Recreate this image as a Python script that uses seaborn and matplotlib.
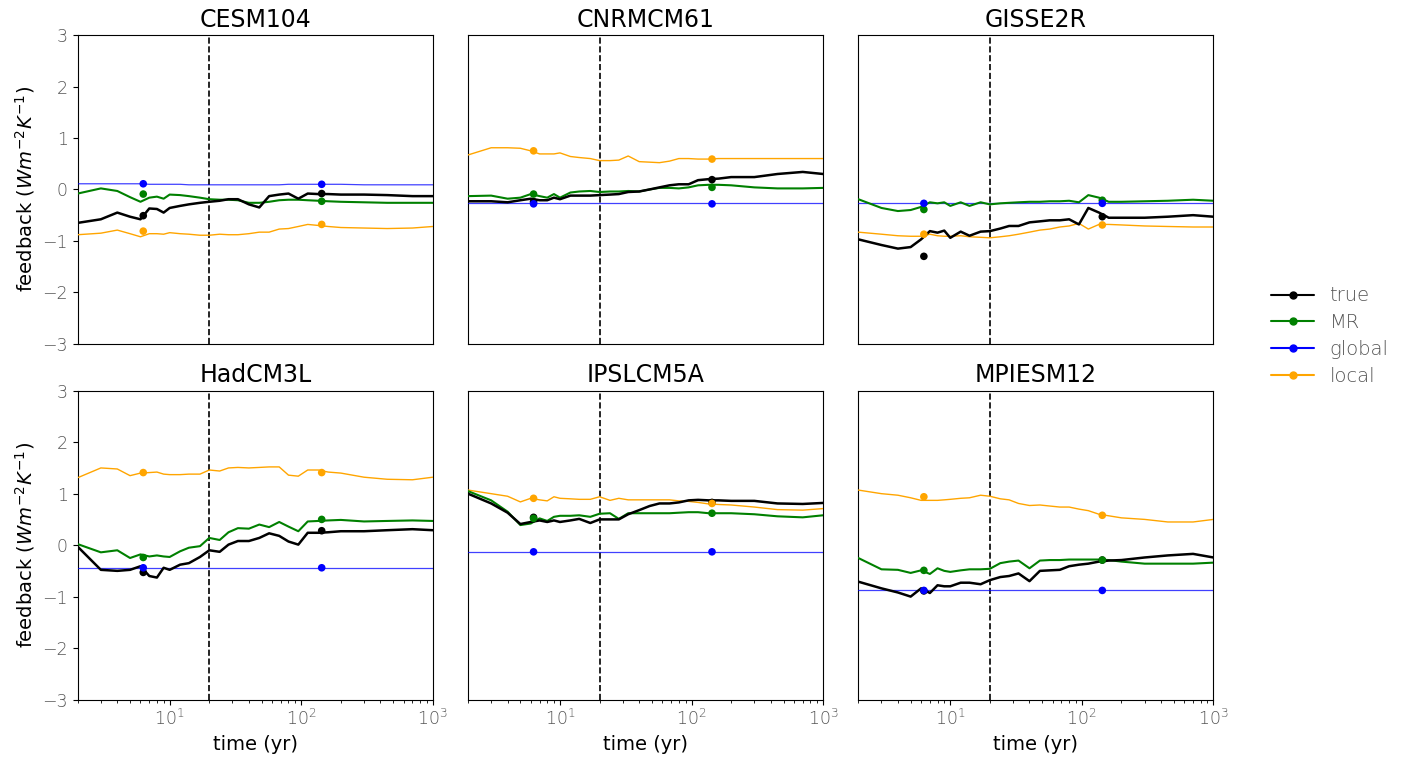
import numpy as np
import pandas as pd
import matplotlib
matplotlib.use("Agg")
import matplotlib.pyplot as plt
from matplotlib.lines import Line2D
import seaborn as sns

# tiempos (anos) y valores
time = [2, 3, 4, 5, 6, 7, 8, 9, 10, 12, 14, 17, 20, 24, 28, 33, 40, 48, 57, 68,
        80, 95, 112, 135, 160, 200, 300, 450, 700, 1000]
point_times = [6.3, 143]

models = ["CESM104", "CNRMCM61", "GISSE2R", "HadCM3L", "IPSLCM5A", "MPIESM12"]

# CESM104
cesm_true = [-0.65, -0.58, -0.45, -0.53, -0.58, -0.37, -0.38, -0.45, -0.36, -0.32, -0.29, -0.26, -0.24, -0.22, -0.19,
             -0.19, -0.29, -0.35, -0.13, -0.10, -0.08, -0.18, -0.08, -0.09, -0.09, -0.10, -0.10, -0.11, -0.13, -0.13]
cesm_mr = [-0.08, 0.02, -0.03, -0.15, -0.24, -0.16, -0.14, -0.18, -0.10, -0.11, -0.13, -0.16, -0.19, -0.20, -0.20,
           -0.21, -0.26, -0.26, -0.24, -0.21, -0.20, -0.20, -0.21, -0.22, -0.23, -0.24, -0.25, -0.26, -0.26, -0.26]
cesm_global = [0.11, 0.11, 0.11, 0.11, 0.11, 0.10, 0.10, 0.10, 0.10, 0.10, 0.09, 0.09, 0.09, 0.09, 0.09,
               0.09, 0.09, 0.09, 0.09, 0.09, 0.10, 0.10, 0.10, 0.10, 0.10, 0.10, 0.09, 0.09, 0.09, 0.09]
cesm_local = [-0.88, -0.85, -0.79, -0.86, -0.92, -0.86, -0.86, -0.87, -0.84, -0.86, -0.87, -0.89, -0.89, -0.87, -0.88,
              -0.88, -0.86, -0.83, -0.83, -0.77, -0.76, -0.72, -0.68, -0.70, -0.72, -0.74, -0.75, -0.76, -0.75, -0.72]
cesm_pts = [[-0.51, -0.08], [-0.09, -0.23], [0.11, 0.10], [-0.81, -0.68]]

# CNRMCM61
cnrm_true = [-0.23, -0.23, -0.25, -0.21, -0.18, -0.21, -0.21, -0.16, -0.19, -0.12, -0.12, -0.12, -0.11, -0.10, -0.09,
             -0.05, -0.04, 0.00, 0.04, 0.08, 0.10, 0.10, 0.18, 0.20, 0.21, 0.24, 0.24, 0.30, 0.34, 0.30]
cnrm_mr = [-0.13, -0.12, -0.18, -0.16, -0.09, -0.13, -0.16, -0.09, -0.16, -0.06, -0.04, -0.03, -0.05, -0.04, -0.04,
           -0.03, -0.04, 0.00, 0.03, 0.03, 0.02, 0.04, 0.08, 0.09, 0.09, 0.08, 0.04, 0.02, 0.02, 0.03]
cnrm_global = [-0.27] * 30
cnrm_local = [0.67, 0.81, 0.81, 0.80, 0.75, 0.69, 0.69, 0.69, 0.71, 0.64, 0.62, 0.60, 0.56, 0.56, 0.57,
              0.65, 0.54, 0.53, 0.52, 0.55, 0.60, 0.60, 0.59, 0.59, 0.60, 0.60, 0.60, 0.60, 0.60, 0.60]
cnrm_pts = [[-0.24, 0.19], [-0.09, 0.04], [-0.28, -0.28], [0.75, 0.59]]

# GISSE2R
giss_true = [-0.97, -1.08, -1.15, -1.12, -0.97, -0.81, -0.84, -0.80, -0.94, -0.82, -0.90, -0.82, -0.81, -0.76, -0.71,
             -0.71, -0.64, -0.62, -0.60, -0.60, -0.58, -0.68, -0.36, -0.45, -0.55, -0.55, -0.55, -0.53, -0.50, -0.53]
giss_mr = [-0.19, -0.36, -0.42, -0.40, -0.34, -0.25, -0.27, -0.25, -0.32, -0.25, -0.32, -0.25, -0.29, -0.27, -0.26,
           -0.25, -0.24, -0.24, -0.23, -0.23, -0.22, -0.25, -0.11, -0.16, -0.24, -0.24, -0.23, -0.22, -0.20, -0.22]
giss_global = [-0.27] * 30
giss_local = [-0.83, -0.87, -0.90, -0.91, -0.91, -0.87, -0.90, -0.91, -0.91, -0.90, -0.92, -0.93, -0.94, -0.92, -0.90,
              -0.87, -0.83, -0.79, -0.77, -0.73, -0.71, -0.66, -0.77, -0.68, -0.68, -0.69, -0.71, -0.72, -0.73, -0.73]
giss_pts = [[-1.30, -0.53], [-0.39, -0.21], [-0.27, -0.27], [-0.87, -0.69]]

# HadCM3L
had_true = [-0.03, -0.48, -0.50, -0.48, -0.41, -0.60, -0.63, -0.44, -0.48, -0.38, -0.35, -0.23, -0.10, -0.13, 0.01,
            0.08, 0.08, 0.14, 0.23, 0.18, 0.07, 0.01, 0.24, 0.24, 0.25, 0.27, 0.27, 0.29, 0.31, 0.29]
had_mr = [0.02, -0.14, -0.10, -0.25, -0.18, -0.22, -0.20, -0.22, -0.23, -0.12, -0.05, -0.02, 0.14, 0.10, 0.25,
          0.33, 0.32, 0.40, 0.35, 0.45, 0.36, 0.27, 0.46, 0.47, 0.48, 0.49, 0.46, 0.47, 0.48, 0.47]
had_global = [-0.44] * 30
had_local = [1.31, 1.50, 1.48, 1.35, 1.40, 1.41, 1.42, 1.38, 1.37, 1.37, 1.38, 1.38, 1.46, 1.44, 1.50,
             1.51, 1.50, 1.51, 1.52, 1.52, 1.36, 1.34, 1.46, 1.46, 1.42, 1.40, 1.32, 1.28, 1.27, 1.32]
had_pts = [[-0.53, 0.28], [-0.24, 0.50], [-0.44, -0.44], [1.41, 1.41]]

# IPSLCM5A
ipsl_true = [1.00, 0.81, 0.63, 0.41, 0.45, 0.48, 0.45, 0.48, 0.45, 0.48, 0.51, 0.43, 0.50, 0.50, 0.50,
             0.60, 0.68, 0.76, 0.81, 0.81, 0.83, 0.87, 0.88, 0.87, 0.87, 0.86, 0.86, 0.81, 0.80, 0.82]
ipsl_mr = [1.05, 0.87, 0.65, 0.39, 0.42, 0.52, 0.47, 0.55, 0.57, 0.57, 0.58, 0.55, 0.61, 0.62, 0.51,
           0.62, 0.62, 0.62, 0.62, 0.62, 0.63, 0.64, 0.64, 0.62, 0.62, 0.62, 0.60, 0.56, 0.54, 0.58]
ipsl_global = [-0.13] * 30
ipsl_local = [1.07, 1.00, 0.95, 0.84, 0.91, 0.88, 0.86, 0.94, 0.91, 0.90, 0.89, 0.89, 0.94, 0.87, 0.91,
              0.88, 0.88, 0.88, 0.88, 0.88, 0.86, 0.85, 0.83, 0.80, 0.79, 0.78, 0.74, 0.69, 0.68, 0.71]
ipsl_pts = [[0.54, 0.83], [0.52, 0.62], [-0.13, -0.13], [0.91, 0.81]]

# MPIESM12
mpi_true = [-0.71, -0.84, -0.92, -1.00, -0.84, -0.93, -0.78, -0.80, -0.80, -0.73, -0.73, -0.76, -0.68, -0.62, -0.60,
            -0.55, -0.70, -0.50, -0.49, -0.48, -0.41, -0.38, -0.36, -0.32, -0.30, -0.29, -0.24, -0.20, -0.17, -0.24]
mpi_mr = [-0.25, -0.47, -0.48, -0.54, -0.49, -0.56, -0.45, -0.50, -0.52, -0.49, -0.47, -0.47, -0.46, -0.35, -0.32,
          -0.30, -0.45, -0.30, -0.29, -0.29, -0.28, -0.28, -0.28, -0.28, -0.29, -0.32, -0.36, -0.36, -0.36, -0.34]
mpi_global = [-0.88] * 30
mpi_local = [1.07, 1.00, 0.97, 0.92, 0.87, 0.87, 0.87, 0.88, 0.89, 0.91, 0.92, 0.97, 0.95, 0.90, 0.88,
             0.81, 0.77, 0.78, 0.76, 0.74, 0.74, 0.70, 0.67, 0.60, 0.57, 0.53, 0.50, 0.45, 0.45, 0.50]
mpi_pts = [[-0.89, -0.29], [-0.49, -0.29], [-0.88, -0.88], [0.94, 0.58]]

series = {
    "CESM104": (cesm_true, cesm_mr, cesm_global, cesm_local, cesm_pts),
    "CNRMCM61": (cnrm_true, cnrm_mr, cnrm_global, cnrm_local, cnrm_pts),
    "GISSE2R": (giss_true, giss_mr, giss_global, giss_local, giss_pts),
    "HadCM3L": (had_true, had_mr, had_global, had_local, had_pts),
    "IPSLCM5A": (ipsl_true, ipsl_mr, ipsl_global, ipsl_local, ipsl_pts),
    "MPIESM12": (mpi_true, mpi_mr, mpi_global, mpi_local, mpi_pts),
}

labels = ["true", "MR", "global", "local"]
colors = ["black", "green", "blue", "orange"]
widths = [1.8, 1.5, 0.9, 1.0]
alphas = [1.0, 1.0, 0.75, 1.0]

sns.set_style("ticks")
plt.rcParams["font.family"] = ["DejaVu Sans"]
plt.rcParams["text.color"] = "black"
plt.rcParams["axes.labelcolor"] = "black"
tick_color = "#555555"

fig, axes = plt.subplots(2, 3, figsize=(14.1, 7.62), dpi=100, sharex=True, sharey=True)
fig.subplots_adjust(left=0.0551, right=0.8606, top=0.954, bottom=0.082, wspace=0.099, hspace=0.152)

for k, (ax, model) in enumerate(zip(axes.flat, models)):
    data = series[model]
    for i in range(4):
        sns.lineplot(x=time, y=data[i], ax=ax, color=colors[i], lw=widths[i],
                     alpha=alphas[i], legend=False, zorder=3 - i * 0.1)
    for i in range(4):
        sns.scatterplot(x=point_times, y=data[4][i], ax=ax, color=colors[i], s=30,
                        edgecolor="none", legend=False, zorder=4)
    ax.axvline(20, color="black", ls="--", lw=1.2)
    ax.set_xscale("log")
    ax.set_xlim(2, 1000)
    ax.set_ylim(-3, 3)
    ax.set_yticks([-3, -2, -1, 0, 1, 2, 3])
    ax.set_title(model, fontsize=17, color="black")
    ax.tick_params(axis="both", which="both", direction="out", colors="black",
                   labelcolor=tick_color, labelsize=12.5)
    if k % 3 != 0:
        ax.tick_params(axis="y", which="both", left=False)
    if k < 3:
        ax.tick_params(axis="x", which="both", bottom=False)
    for lab in ax.get_xticklabels() + ax.get_yticklabels():
        lab.set_fontweight("light")
    for sp in ax.spines.values():
        sp.set_visible(True)
        sp.set_color("black")

for ax in axes[:, 0]:
    ax.set_ylabel("feedback ($Wm^{-2}K^{-1}$)", fontsize=14)
for ax in axes[1, :]:
    ax.set_xlabel("time (yr)", fontsize=14)

handles = [Line2D([0], [0], color=c, lw=1.5, marker="o", markersize=5) for c in colors]
leg = fig.legend(handles, labels, loc="center left", bbox_to_anchor=(0.896, 0.559),
                 frameon=False, fontsize=14, handlelength=2.2, labelspacing=0.4,
                 borderaxespad=0)
for txt in leg.get_texts():
    txt.set_color(tick_color)
    txt.set_fontweight("light")

fig.savefig("out.png", dpi=100)
